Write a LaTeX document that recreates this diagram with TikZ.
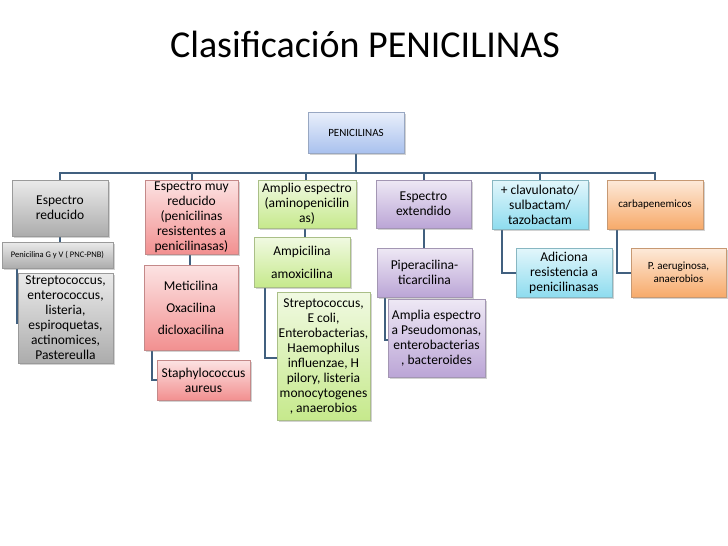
\documentclass[tikz,border=0pt]{standalone}
\usepackage{fontspec}
\setmainfont{Carlito}
\usetikzlibrary{shadows}
\definecolor{ln}{HTML}{41607F}
\tikzset{
 bx/.style n args={2}{draw=#1!60!gray,top color=#1!25,bottom color=#1, drop shadow={opacity=0.35,shadow xshift=1.5pt,shadow yshift=-1.5pt},align=center,inner sep=1pt,font=\fontsize{13.5}{15}\selectfont,#2},
 sm/.style={font=\fontsize{11}{13}\selectfont},
 cn/.style={draw=ln,line width=1.6pt}
}
\colorlet{cgray}{gray!65}
\definecolor{cred}{HTML}{F29090}
\definecolor{cgreen}{HTML}{C6E98C}
\definecolor{cpurp}{HTML}{BBA5D6}
\definecolor{ccyan}{HTML}{8EDCEF}
\definecolor{corange}{HTML}{F7AA6A}
\definecolor{cblue}{HTML}{A9C1EE}
\newcommand{\bxx}[7]{\node[bx=#2,minimum width={#5-#3},minimum height={#6-#4}] (#1) at ({(#3+#5)/2},{(#4+#6)/2}) {#7};}
\begin{document}
\begin{tikzpicture}[x=1pt,y=-1pt]
\useasboundingbox[fill=white] (0,0) rectangle (728,546);
\node[font=\fontsize{38}{42}\selectfont] (title) at (365,44) {Clasificación PENICILINAS};
\draw[cn] (356,153) -- (356,173);
\draw[cn] (60,180) -- (60,173) -- (655,173) -- (655,180);
\foreach \x in {192,306,424,540} \draw[cn] (\x,173) -- (\x,180);
\draw[cn] (60,236) -- (60,242);
\draw[cn] (17,268) -- (17,323) -- (18,323);
\draw[cn] (190,254) -- (190,265);
\draw[cn] (152,350) -- (152,380) -- (157,380);
\draw[cn] (305,228) -- (305,237);
\draw[cn] (265,287) -- (265,358) -- (277,358);
\draw[cn] (424,228) -- (424,248);
\draw[cn] (385,297) -- (385,340) -- (388,340);
\draw[cn] (502,229) -- (502,273) -- (516,273);
\draw[cn] (617,229) -- (617,273) -- (631,273);
\bxx{root}{{cblue}{sm}}{308}{112}{404}{153}{PENICILINAS}
\bxx{a}{{cgray}{}}{12}{180}{108}{236}{Espectro\\reducido}
\bxx{b}{{cred}{}}{145}{180}{238}{254}{Espectro muy\\reducido\\(penicilinas\\resistentes a\\penicilinasas)}
\bxx{c}{{cgreen}{}}{258}{180}{356}{228}{Amplio espectro\\(aminopenicilin\\as)}
\bxx{d}{{cpurp}{}}{376}{180}{471}{228}{Espectro\\extendido}
\bxx{e}{{ccyan}{}}{492}{180}{588}{229}{+ clavulonato/\\sulbactam/\\tazobactam}
\bxx{f}{{corange}{sm}}{607}{180}{703}{229}{carbapenemicos}
\bxx{a1}{{cgray}{font=\fontsize{8.5}{10}\selectfont}}{2}{242}{113}{268}{Penicilina G y V ( PNC-PNB)}
\bxx{a2}{{cgray}{}}{18}{273}{113}{363}{Streptococcus,\\enterococcus,\\listeria,\\espiroquetas,\\actinomices,\\Pastereulla}
\bxx{b1}{{cred}{}}{144}{265}{238}{350}{Meticilina\\[7pt]Oxacilina\\[7pt]dicloxacilina}
\bxx{b2}{{cred}{}}{157}{360}{250}{400}{Staphylococcus\\aureus}
\bxx{c1}{{cgreen}{}}{254}{237}{350}{287}{Ampicilina\\[8pt]amoxicilina}
\bxx{c2}{{cgreen}{}}{277}{292}{370}{420}{Streptococcus,\\E coli,\\Enterobacterias,\\Haemophilus\\influenzae, H\\pilory, listeria\\monocytogenes\\, anaerobios}
\bxx{d1}{{cpurp}{}}{377}{248}{472}{297}{Piperacilina-\\ticarcilina}
\bxx{d2}{{cpurp}{}}{388}{299}{485}{377}{Amplia espectro\\a Pseudomonas,\\enterobacterias\\, bacteroides}
\bxx{e1}{{ccyan}{}}{516}{248}{612}{297}{Adiciona\\resistencia a\\penicilinasas}
\bxx{f1}{{corange}{sm}}{631}{248}{726}{297}{P. aeruginosa,\\anaerobios}
\end{tikzpicture}
\end{document}
